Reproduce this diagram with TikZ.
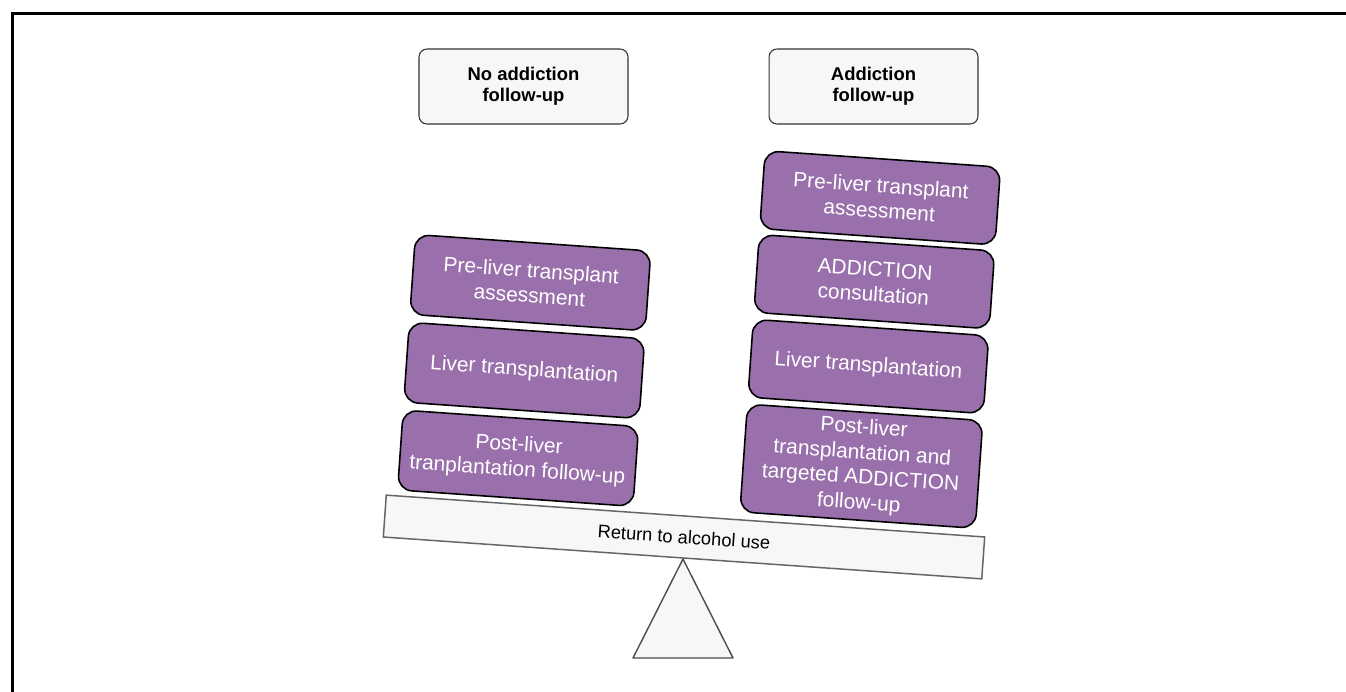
\documentclass[tikz,border=0pt]{standalone}
\usepackage{fontspec}
\setmainfont{Liberation Sans}
\definecolor{stagepurple}{HTML}{9A70AC}
\definecolor{paperwhite}{HTML}{F7F7F7}
\definecolor{edgegray}{HTML}{666666}

\begin{document}
\begin{tikzpicture}[x=0.02cm, y=0.02cm,
    stage/.style={draw=black, line width=0.9pt, fill=stagepurple, text=white,
        rounded corners=8pt, minimum width=4.72cm, inner sep=2pt, align=center,
        font=\fontsize{11.9}{14.3}\selectfont},
    header/.style={draw=black!80, line width=0.6pt, fill=paperwhite,
        rounded corners=4.5pt, minimum width=4.18cm, minimum height=1.5cm,
        align=center, font=\fontsize{10.5}{12}\selectfont\bfseries},
    plank/.style={draw=edgegray, line width=0.85pt, fill=paperwhite,
        minimum width=12cm, minimum height=0.84cm, inner sep=0pt,
        font=\fontsize{10.4}{12}\selectfont},
    fulcrum/.style={draw=black!70, line width=0.8pt, fill=paperwhite, line join=round}]
    \useasboundingbox (0,0) rectangle (1346,691);

    % Frame
    \draw[line width=1.7pt] (12.5,-10) |- (1360,677.5);

    % Headers
    \node[header] (nofollow) at (523.5,604.5) {No addiction\\follow-up};
    \node[header] (follow) at (873.5,604.5) {Addiction\\follow-up};

    % Fulcrum
    \draw[fulcrum] (683,132) -- (733,33) -- (633,33) -- cycle;

    % Seesaw
    \begin{scope}[shift={(684,154)}, rotate=-4, transform shape]
        \node[plank] (plank) at (0,0) {Return to alcohol use};

        \node[stage, minimum height=1.6cm] (preL) at (-171,243) {Pre-liver transplant\\assessment};
        \node[stage, minimum height=1.6cm] (ltL) at (-171,155) {Liver transplantation};
        \node[stage, minimum height=1.6cm] (postL) at (-171,67) {Post-liver\\tranplantation follow-up};

        \node[stage, minimum height=1.56cm] (preR) at (172,352) {Pre-liver transplant\\assessment};
        \node[stage, minimum height=1.56cm] (consR) at (172,268) {ADDICTION\\consultation};
        \node[stage, minimum height=1.56cm] (ltR) at (172,183) {Liver transplantation};
        \node[stage, minimum height=2.16cm] (postR) at (172,83) {Post-liver\\transplantation and\\targeted ADDICTION\\follow-up};
    \end{scope}
\end{tikzpicture}
\end{document}
